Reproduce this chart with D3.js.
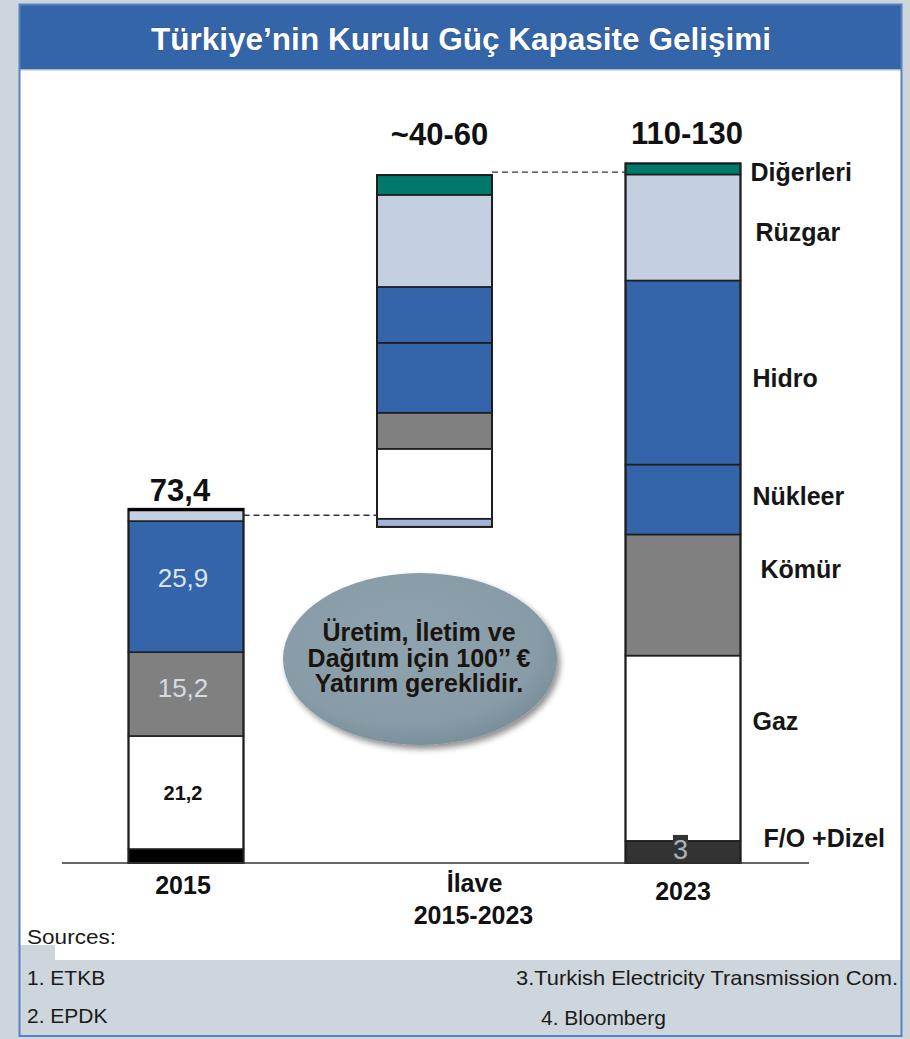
<!DOCTYPE html>
<html>
<head>
<meta charset="utf-8">
<script src="https://cdn.jsdelivr.net/npm/d3@7"></script>
<style>
html,body{margin:0;padding:0;background:#cdd6dc;}
svg{display:block;}
text{font-family:"Liberation Sans",Arial,sans-serif;}
</style>
</head>
<body>
<svg id="chart" width="910" height="1039"></svg>
<script>
// ---------- DATA ----------
const title = "Türkiye’nin Kurulu Güç Kapasite Gelişimi";
const categories = ["2015", "İlave 2015-2023", "2023"];
const categoryLabels = [["2015"], ["İlave", "2015-2023"], ["2023"]];
const series = ["F/O +Dizel", "Gaz", "Kömür", "Nükleer", "Hidro", "Rüzgar", "Diğerleri"];
// segment heights (chart units), bottom -> top
const values2015  = [2.4, 19.4, 14.4, 0, 22.5, 2.1, 0];
const valuesIlave = [1.4, 12.0, 6.2, 12.0, 9.6, 15.8, 3.4];
const values2023  = [3.8, 31.8, 20.8, 12.0, 31.6, 18.2, 1.9];
const barBases = [0, 57.7, 0];
const totalLabels = ["73,4", "~40-60", "110-130"];
const connectorLevels = [59.7, 118.6];
const segmentLabels2015 = [null, "21,2", "15,2", null, "25,9", null, null];
const segmentLabels2023 = ["3", null, null, null, null, null, null];
const sourcesLeft = ["1. ETKB", "2. EPDK"];
const sourcesRight = ["3.Turkish Electricity Transmission Com.", "4. Bloomberg"];
const calloutLines = ["Üretim, İletim ve", "Dağıtım için 100’’ €", "Yatırım gereklidir."];

// ---------- STYLE ----------
const seriesColors = [
  ["#000000", "#ffffff", "#808080", "#3465aa", "#3465aa", "#c5cfe2", "#00796b"],
  ["#9fb4d6", "#ffffff", "#808080", "#3465aa", "#3465aa", "#c5cfe2", "#00796b"],
  ["#333333", "#ffffff", "#808080", "#3465aa", "#3465aa", "#c5cfe2", "#00796b"]
];
const allValues = [values2015, valuesIlave, values2023];

const svg = d3.select("#chart");

// frame
svg.append("rect").attr("x", 19).attr("y", 4).attr("width", 883).attr("height", 1032)
  .attr("fill", "#ffffff");
svg.append("rect").attr("x", 19).attr("y", 4).attr("width", 883).attr("height", 66)
  .attr("fill", "#3465a9");
svg.append("line").attr("x1", 19).attr("x2", 902).attr("y1", 70).attr("y2", 70)
  .attr("stroke", "#c9d4e6").attr("stroke-width", 1.5);
// sources band
svg.append("path")
  .attr("d", "M19,945 H55 V960 H902 V1036 H19 Z")
  .attr("fill", "#cdd6dc");
svg.append("rect").attr("x", 19.5).attr("y", 4.5).attr("width", 882).attr("height", 1031.5)
  .attr("fill", "none").attr("stroke", "#5b80bd").attr("stroke-width", 2);

// title
svg.append("text").attr("x", 461).attr("y", 50).attr("text-anchor", "middle")
  .attr("font-size", 32).attr("font-weight", "bold").attr("fill", "#ffffff")
  .attr("textLength", 620).attr("lengthAdjust", "spacingAndGlyphs")
  .style("paint-order", "stroke").attr("stroke", "rgba(20,40,80,0.35)").attr("stroke-width", 1)
  .text(title);

// scales
const y = d3.scaleLinear().domain([0, 120]).range([863, 164]);
const x = d3.scalePoint().domain(categories).range([186, 683]);
const barW = 115;

// defs: ellipse gradient + shadow
const defs = svg.append("defs");
const rg = defs.append("radialGradient").attr("id", "eg").attr("cx", "45%").attr("cy", "40%").attr("r", "60%");
rg.append("stop").attr("offset", "0%").attr("stop-color", "#8ea3ad");
rg.append("stop").attr("offset", "80%").attr("stop-color", "#889ca7");
rg.append("stop").attr("offset", "100%").attr("stop-color", "#7a909b");
const f = defs.append("filter").attr("id", "sh").attr("x", "-20%").attr("y", "-20%").attr("width", "140%").attr("height", "150%");
f.append("feGaussianBlur").attr("in", "SourceAlpha").attr("stdDeviation", 3).attr("result", "b");
f.append("feOffset").attr("in", "b").attr("dx", 3).attr("dy", 4).attr("result", "o");
f.append("feComponentTransfer").attr("in", "o").attr("result", "o2")
  .append("feFuncA").attr("type", "linear").attr("slope", 0.45);
const fm = f.append("feMerge");
fm.append("feMergeNode").attr("in", "o2");
fm.append("feMergeNode").attr("in", "SourceGraphic");

// bars
const g = svg.append("g");
categories.forEach((cat, ci) => {
  let acc = barBases[ci];
  const segs = allValues[ci].map((v, si) => {
    const s = {cat, ci, si, y0: acc, y1: acc + v, v};
    acc += v;
    return s;
  }).filter(s => s.v > 0);
  g.selectAll(null).data(segs).enter().append("rect")
    .attr("x", d => x(d.cat) - barW / 2)
    .attr("y", d => y(d.y1))
    .attr("width", barW)
    .attr("height", d => y(d.y0) - y(d.y1))
    .attr("fill", d => seriesColors[d.ci][d.si])
    .attr("stroke", "#1e1e1e").attr("stroke-width", 1.6);
  g.append("rect")
    .attr("x", x(cat) - barW / 2).attr("y", y(acc))
    .attr("width", barW).attr("height", y(barBases[ci]) - y(acc))
    .attr("fill", "none").attr("stroke", "#1e1e1e").attr("stroke-width", 2);
});
g.append("line")
  .attr("x1", x("2015") - barW / 2).attr("x2", x("2015") + barW / 2)
  .attr("y1", y(d3.sum(values2015)) + 1).attr("y2", y(d3.sum(values2015)) + 1)
  .attr("stroke", "#000").attr("stroke-width", 3);

// baseline
svg.append("line").attr("x1", 62).attr("x2", 809).attr("y1", y(0)).attr("y2", y(0))
  .attr("stroke", "#333").attr("stroke-width", 1.6);

// connectors
svg.append("line")
  .attr("x1", x(categories[0]) + barW / 2).attr("x2", x(categories[1]) - barW / 2)
  .attr("y1", y(connectorLevels[0])).attr("y2", y(connectorLevels[0]))
  .attr("stroke", "#333").attr("stroke-width", 1.4).attr("stroke-dasharray", "6,4");
svg.append("line")
  .attr("x1", x(categories[1]) + barW / 2).attr("x2", x(categories[2]) - barW / 2)
  .attr("y1", y(connectorLevels[1])).attr("y2", y(connectorLevels[1]))
  .attr("stroke", "#333").attr("stroke-width", 1.4).attr("stroke-dasharray", "6,4");

// totals
const totalOffsets = [[-6, -8], [5, -30], [4, -19]];
totalLabels.forEach((t, i) => {
  const top = barBases[i] + d3.sum(allValues[i]);
  svg.append("text").attr("x", x(categories[i]) + totalOffsets[i][0])
    .attr("y", y(top) + totalOffsets[i][1])
    .attr("text-anchor", "middle").attr("font-size", 31).attr("font-weight", "bold")
    .attr("fill", "#111").text(t);
});

function mid(vals, base, si) {
  let a = base;
  for (let k = 0; k < si; k++) a += vals[k];
  return a + vals[si] / 2;
}
const seg2015Style = {
  "21,2": {size: 20, weight: "bold", fill: "#111", dy: 7},
  "15,2": {size: 26, weight: "normal", fill: "#d5dce4", dy: 3},
  "25,9": {size: 26, weight: "normal", fill: "#dde3ec", dy: 0}
};
segmentLabels2015.forEach((lab, si) => {
  if (!lab) return;
  const st = seg2015Style[lab];
  svg.append("text").attr("x", x("2015") - 3).attr("y", y(mid(values2015, 0, si)) + st.dy)
    .attr("text-anchor", "middle").attr("font-size", st.size).attr("font-weight", st.weight)
    .attr("fill", st.fill).text(lab);
});
segmentLabels2023.forEach((lab, si) => {
  if (!lab) return;
  const cy = y(mid(values2023, 0, si));
  svg.append("rect").attr("x", x("2023") - 10).attr("y", cy - 17).attr("width", 15).attr("height", 27)
    .attr("fill", "#333333");
  svg.append("text").attr("x", x("2023") - 2.5).attr("y", cy + 7)
    .attr("text-anchor", "middle").attr("font-size", 27).attr("fill", "#aab4be").text(lab);
});

// right series labels (2023)
const rightLabelDx = [23, 12, 20, 12, 12, 15, 10];
const rightLabelDy = [-5, -18, -17.5, 5, 14, 14, 12];
series.forEach((s, si) => {
  svg.append("text")
    .attr("x", x("2023") + barW / 2 + rightLabelDx[si])
    .attr("y", y(mid(values2023, 0, si)) + rightLabelDy[si])
    .attr("font-size", 25).attr("font-weight", "bold").attr("fill", "#161616").text(s);
});

// category labels
const catLabelPos = [[-3, 894], [40, 892], [0, 900]];
categoryLabels.forEach((lines, i) => {
  lines.forEach((l, j) => {
    svg.append("text").attr("x", x(categories[i]) + catLabelPos[i][0] - (j === 1 ? 1 : 0))
      .attr("y", catLabelPos[i][1] + j * 32)
      .attr("text-anchor", "middle").attr("font-size", 25).attr("font-weight", "bold")
      .attr("fill", "#111").text(l);
  });
});

// callout ellipse
svg.append("ellipse").attr("cx", 420).attr("cy", 659).attr("rx", 137).attr("ry", 86)
  .attr("fill", "url(#eg)").attr("filter", "url(#sh)");
calloutLines.forEach((l, i) => {
  svg.append("text").attr("x", 419).attr("y", 641 + i * 25.5)
    .attr("text-anchor", "middle").attr("font-size", 25).attr("font-weight", "bold")
    .attr("fill", "#1a1410").text(l);
});

// sources
svg.append("text").attr("x", 27).attr("y", 944).attr("font-size", 21).attr("fill", "#1a1a1a")
  .attr("textLength", 89).attr("lengthAdjust", "spacingAndGlyphs").text("Sources:");
sourcesLeft.forEach((s, i) => {
  svg.append("text").attr("x", 27).attr("y", 985 + i * 38).attr("font-size", 21)
    .attr("fill", "#1a1a1a").text(s);
});
const rightSrcX = [516, 541];
sourcesRight.forEach((s, i) => {
  const t = svg.append("text").attr("x", rightSrcX[i]).attr("y", 985 + i * 40).attr("font-size", 21)
    .attr("fill", "#1a1a1a").text(s);
  if (i === 0) t.attr("textLength", 382).attr("lengthAdjust", "spacingAndGlyphs");
});
</script>
</body>
</html>
